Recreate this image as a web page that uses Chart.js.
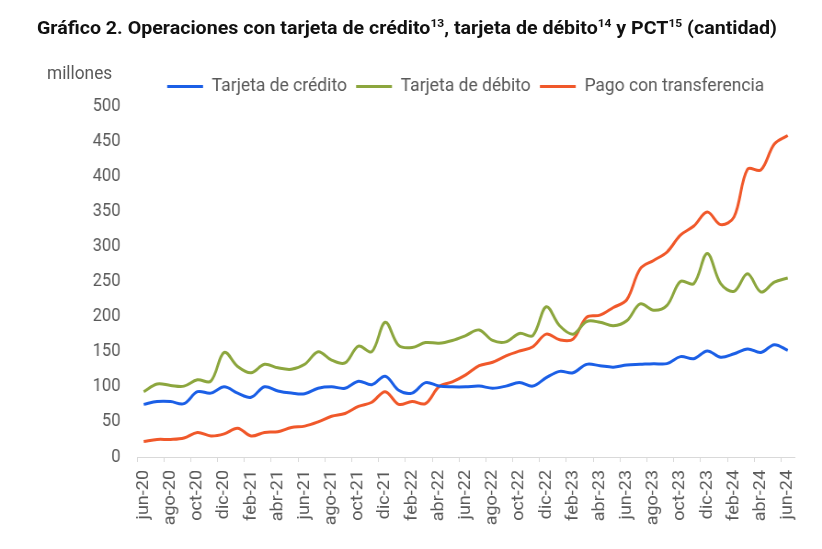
<!DOCTYPE html>
<html lang="es">
<head>
<meta charset="utf-8">
<title>Gráfico 2</title>
<script src="https://cdn.jsdelivr.net/npm/chart.js@4.4.1/dist/chart.umd.min.js"></script>
<style>
    html, body { margin: 0; padding: 0; background: #fff; overflow: hidden; }
    #wrap { position: relative; width: 822px; height: 549px; overflow: hidden; }
    /* the original is slightly condensed horizontally */
    #chart { position: absolute; left: 0; top: 0; transform: scaleX(0.9195); transform-origin: 0 0; }
    #title {
        position: absolute; left: 37px; top: 17px;
        font-family: Roboto, "Liberation Sans", sans-serif;
        font-weight: 700; font-size: 18px; color: #111;
        white-space: nowrap; transform-origin: 0 0;
    }
    #title sup { font-size: 11px; vertical-align: 7px; line-height: 0; }
    #unit {
        position: absolute; left: 47px; top: 62px;
        font-family: Roboto, sans-serif; font-size: 18px; color: #595959;
        transform: scaleX(0.96); transform-origin: 0 0;
    }
</style>
</head>
<body>
<div id="wrap">
    <canvas id="chart" width="894" height="549"></canvas>
    <div id="title">Gráfico 2. Operaciones con tarjeta de crédito<sup>13</sup>, tarjeta de débito<sup>14</sup> y PCT<sup>15</sup> (cantidad)</div>
    <div id="unit">millones</div>
</div>
<script>
// Months jun-20 .. jun-24
const months = ['ene', 'feb', 'mar', 'abr', 'may', 'jun', 'jul', 'ago', 'sep', 'oct', 'nov', 'dic'];
const labels = [];
for (let i = 0; i < 49; i++) {
    const m = (5 + i) % 12;
    const y = 20 + Math.floor((5 + i) / 12);
    labels.push(months[m] + '-' + y);
}

// millones de operaciones
const credito = [
    75, 79, 79, 76, 93, 91, 100, 91, 85, 100, 94, 91, 90, 98, 100, 98,
    108, 103, 115, 95, 91, 106, 101, 100, 100, 101, 98, 101, 106, 101, 113, 122,
    120, 132, 130, 128, 131, 132, 133, 133, 143, 140, 151, 142, 147, 154, 149, 160,
    152
];
const debito = [
    93, 104, 102, 101, 110, 108, 149, 129, 120, 132, 127, 125, 132, 150, 138, 134,
    158, 150, 192, 159, 156, 163, 162, 166, 173, 181, 166, 164, 176, 173, 214, 187,
    175, 193, 192, 187, 194, 218, 209, 216, 250, 247, 290, 247, 236, 261, 235, 249,
    255
];
const transferencia = [
    22, 25, 25, 27, 35, 30, 33, 41, 30, 35, 36, 42, 44, 50, 58, 62,
    72, 78, 93, 75, 79, 76, 100, 107, 117, 130, 135, 144, 151, 157, 175, 167,
    168, 199, 202, 213, 224, 268, 280, 292, 316, 329, 349, 331, 342, 410, 409, 446,
    458
];

const axisGray = '#595959';
const lineGray = '#d9d9d9';

function series(label, data, color) {
    return {
        label,
        data,
        borderColor: color,
        backgroundColor: color,
        borderWidth: 3,
        pointRadius: 0,
        tension: 0.35,
        fill: false,
    };
}

new Chart(document.getElementById('chart'), {
    type: 'line',
    data: {
        labels,
        datasets: [
            series('Tarjeta de crédito', credito, '#1b5fe6'),
            series('Tarjeta de débito', debito, '#8ca63e'),
            series('Pago con transferencia', transferencia, '#f0582a'),
        ],
    },
    options: {
        responsive: false,
        animation: false,
        layout: { padding: { top: 67, left: 0, right: 30, bottom: 0 } },
        plugins: {
            tooltip: { enabled: false },
            legend: {
                position: 'top',
                fullSize: false,
                labels: {
                    usePointStyle: true,
                    pointStyle: 'line',
                    pointStyleWidth: 39,
                    padding: 10,
                    color: axisGray,
                    font: { family: 'Roboto', size: 19 },
                },
            },
        },
        scales: {
            x: {
                offset: true,
                afterFit: (scale) => { scale.height = 92; },
                grid: {
                    offset: true,
                    drawOnChartArea: false,
                    drawTicks: true,
                    tickLength: 5,
                    color: (ctx) => (ctx.index % 2 === 0 ? lineGray : 'transparent'),
                },
                border: { display: true, color: lineGray, width: 1 },
                ticks: {
                    autoSkip: false,
                    minRotation: 90,
                    maxRotation: 90,
                    padding: 8,
                    color: axisGray,
                    font: { family: 'Roboto', size: 18 },
                    callback: (val, i) => (i % 2 === 0 ? labels[i] : ''),
                },
            },
            y: {
                min: 0,
                max: 500,
                afterFit: (scale) => { scale.width = 149; },
                grid: { display: false, drawTicks: false },
                border: { display: false },
                ticks: {
                    stepSize: 50,
                    padding: 18,
                    color: axisGray,
                    font: { family: 'Roboto', size: 18 },
                },
            },
        },
    },
});

// squeeze title to the condensed width of the original
const title = document.getElementById('title');
const w = title.getBoundingClientRect().width;
title.style.transform = 'scaleX(' + (740 / w) + ')';
</script>
</body>
</html>
